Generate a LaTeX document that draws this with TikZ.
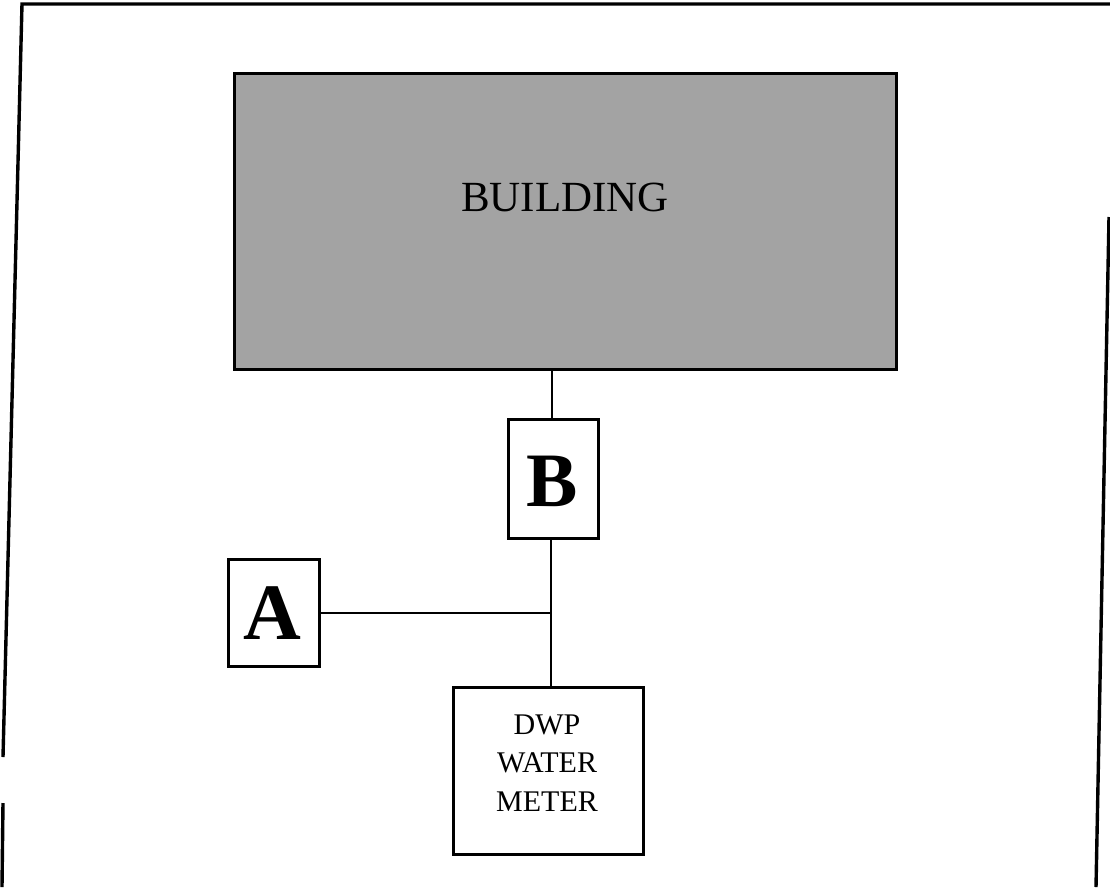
\documentclass[tikz,border=0pt]{standalone}
\usepackage{fontspec}
\setmainfont{Liberation Serif}
\tikzset{
  frameline/.style={line width=3.4pt, line cap=butt},
  boxstyle/.style={draw=black, line width=2.8pt, fill=white, inner sep=0pt, anchor=north west},
  pipe/.style={draw=black, line width=2pt},
}
\begin{document}
\begin{tikzpicture}[x=1pt, y=-1pt]
\useasboundingbox (0,0) rectangle (1110,887);
% outer frame (open at bottom)
\draw[frameline] (3,757) -- (22,4) -- (1110,4);
\draw[frameline] (3,803) -- (2,887);
\draw[frameline] (1109,217) -- (1096,887);
% building
\node[boxstyle, fill=black!36, minimum width=662pt, minimum height=296pt] (bld) at (233,72) {};
\node[font=\fontsize{43}{43}\selectfont, inner sep=0pt] (bldtxt) at (565,197) {BUILDING};
% B
\node[boxstyle, minimum width=90pt, minimum height=119pt] (B) at (507,418) {};
\node[font=\bfseries\fontsize{77}{77}\selectfont, inner sep=0pt] at (552,481) {B};
% A
\node[boxstyle, minimum width=91pt, minimum height=107pt] (A) at (227,558) {};
\node[font=\bfseries\fontsize{80}{80}\selectfont, inner sep=0pt] at (272,613) {A};
% meter
\node[boxstyle, minimum width=190pt, minimum height=167pt] (M) at (452,686) {};
\node[font=\fontsize{30}{38.5}\selectfont, align=center, inner sep=0pt] (Mtxt) at (547,763) {DWP\\WATER\\METER};
% pipes
\coordinate (J) at (551,613);
\draw[pipe] (bld.south -| 552,0) -- (B.north -| 552,0);
\draw[pipe] (B.south -| 551,0) -- (M.north -| 551,0);
\draw[pipe] (A.east |- J) -- (J);
\end{tikzpicture}
\end{document}
